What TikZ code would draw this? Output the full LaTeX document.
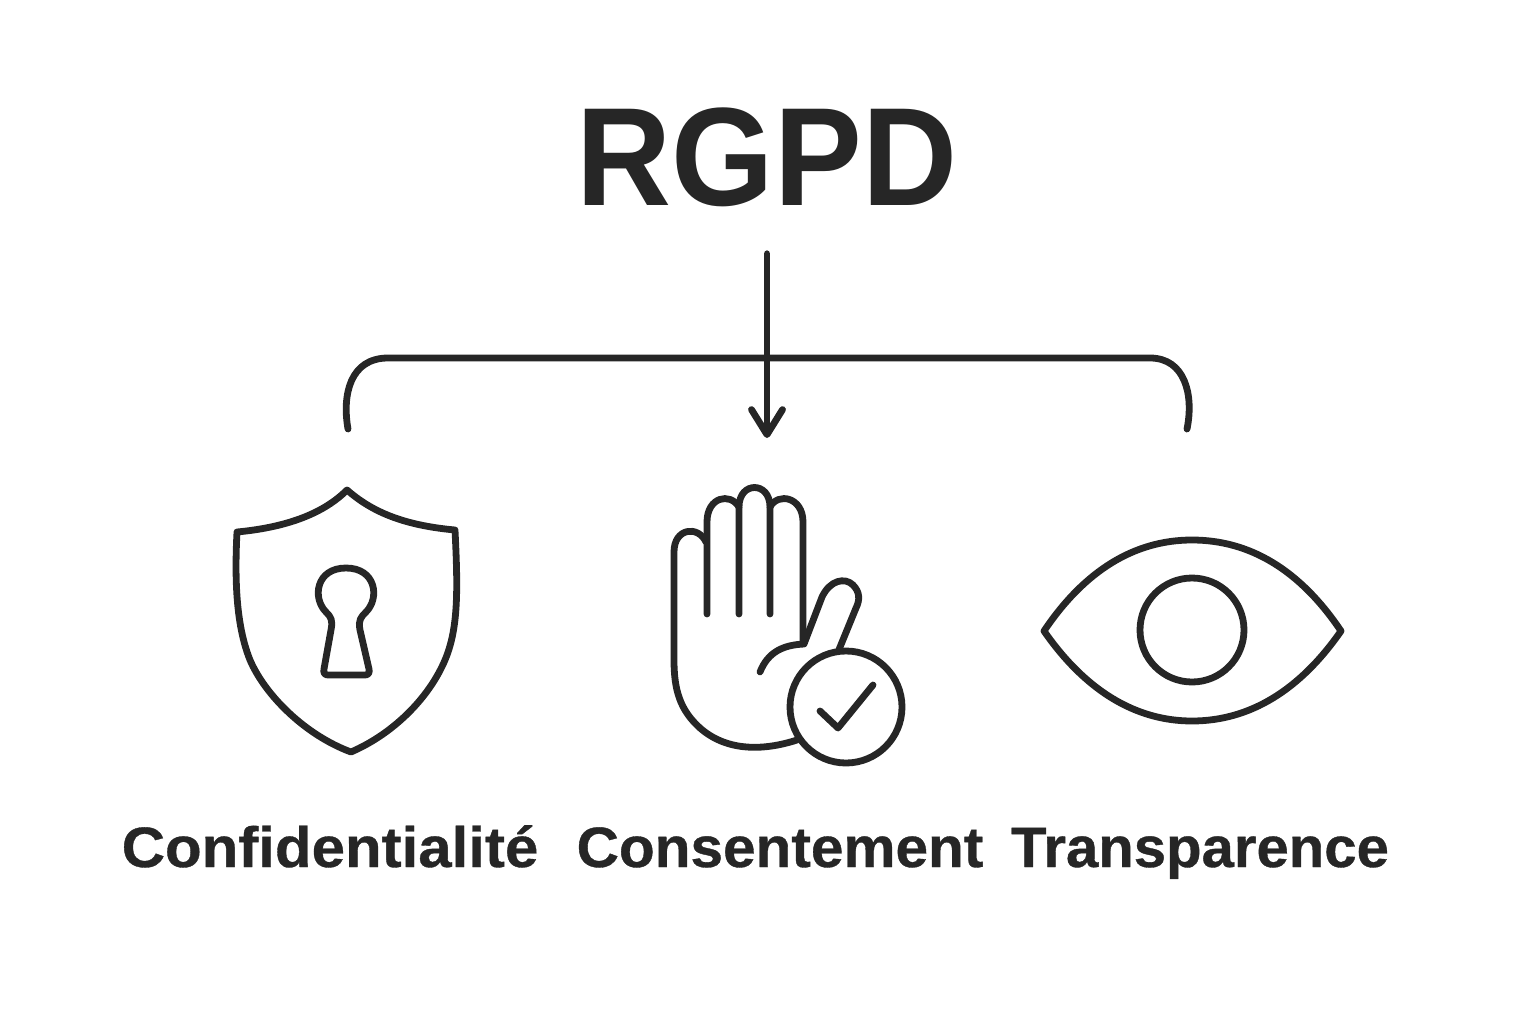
\documentclass[tikz,border=0pt]{standalone}
\usepackage{fontspec}
\setmainfont{Liberation Sans}
\newfontfamily\heavyfont[FakeBold=0.6]{Liberation Sans Bold}
\usetikzlibrary{arrows.meta}
\definecolor{ink}{HTML}{262626}

\begin{document}
\begin{tikzpicture}[
            x = 0.01cm, y = -0.01cm,
 iconline/.style = {draw=ink, line width=0.068cm, line join=round, line cap=round},
  pointer/.style = {iconline, -{Straight Barb[length=0.25cm,width=0.31cm,round]}},
  heading/.style = {text=ink, font=\fontsize{39.8}{40}\selectfont\bfseries, xscale=0.94,
                    text height=1cm, text depth=0pt, inner xsep=0pt, inner ysep=0.48cm},
   legend/.style = {text=ink, font=\fontsize{16.2}{18}\heavyfont, anchor=base, inner sep=0pt}
                        ]
\useasboundingbox (0,0) rectangle (1536,1024);
% title and arrow
    \node[heading] (rgpd) at (767,155) {RGPD};
    \coordinate (tip) at (767,438);
    \draw[pointer] (rgpd.south) -- (tip);
% bracket
    \coordinate (left)  at (348,429);
    \coordinate (right) at (1187,429);
    \draw[iconline] (left) .. controls (342,395) and (350,358) .. (388,358) -- (1150,358)
        .. controls (1185,358) and (1194,395) .. (right);
% shield
    \draw[iconline] (347,490) .. controls (325,512) and (290,527) .. (237,532)
        .. controls (234,590) and (238,630) .. (250,660)
        .. controls (265,695) and (305,735) .. (351,752)
        .. controls (395,733) and (432,695) .. (447,655)
        .. controls (458,625) and (458,590) .. (455,530)
        .. controls (400,525) and (370,510) .. (347,490) -- cycle;
    \draw[iconline] (324,669) -- (331,630)
        .. controls (333,620) and (331,617) .. (326,612)
        .. controls (312,598) and (316,568) .. (346,568)
        .. controls (376,568) and (380,598) .. (366,612)
        .. controls (361,617) and (358,620) .. (360,630) -- (369,669)
        .. controls (370,673) and (368,675) .. (365,675) -- (328,675)
        .. controls (325,675) and (323,673) .. (324,669) -- cycle;
% hand
    \draw[iconline] (797,740) .. controls (760,752) and (725,750) .. (700,728)
        .. controls (680,710) and (674,690) .. (674,660) -- (674,552)
        .. controls (674,528) and (698,525) .. (706,542);
    \draw[iconline] (707,614) -- (707,522) .. controls (707,497) and (730,492) .. (739,507);
    \draw[iconline] (739,614) -- (739,507) .. controls (739,481) and (770,481) .. (770,507) -- (770,614);
    \draw[iconline] (770,507) .. controls (778,492) and (803,497) .. (803,522) -- (803,643);
    \draw[iconline] (760,672) .. controls (768,652) and (783,645) .. (804,644) -- (822,597)
        .. controls (830,580) and (845,577) .. (853,585)
        .. controls (860,592) and (860,600) .. (856,608) -- (838,652);
    \draw[iconline, fill=white] (846,707) circle[radius=56];
    \draw[iconline] (820,711) -- (838,728) -- (873,685);
% eye
    \draw[iconline] (1044,631) .. controls (1085,570) and (1135,540) .. (1192,540)
        .. controls (1250,540) and (1300,570) .. (1341,631)
        .. controls (1300,690) and (1250,721) .. (1192,721)
        .. controls (1135,721) and (1085,690) .. (1044,631) -- cycle;
    \draw[iconline] (1192,630) circle[radius=52];
% labels
    \node[legend, xscale=1.053] (conf)  at (330,867)  {Confidentialité};
    \node[legend, xscale=1.028] (cons)  at (780,867)  {Consentement};
    \node[legend, xscale=1.02]  (trans) at (1200,867) {Transparence};
\end{tikzpicture}
\end{document}
